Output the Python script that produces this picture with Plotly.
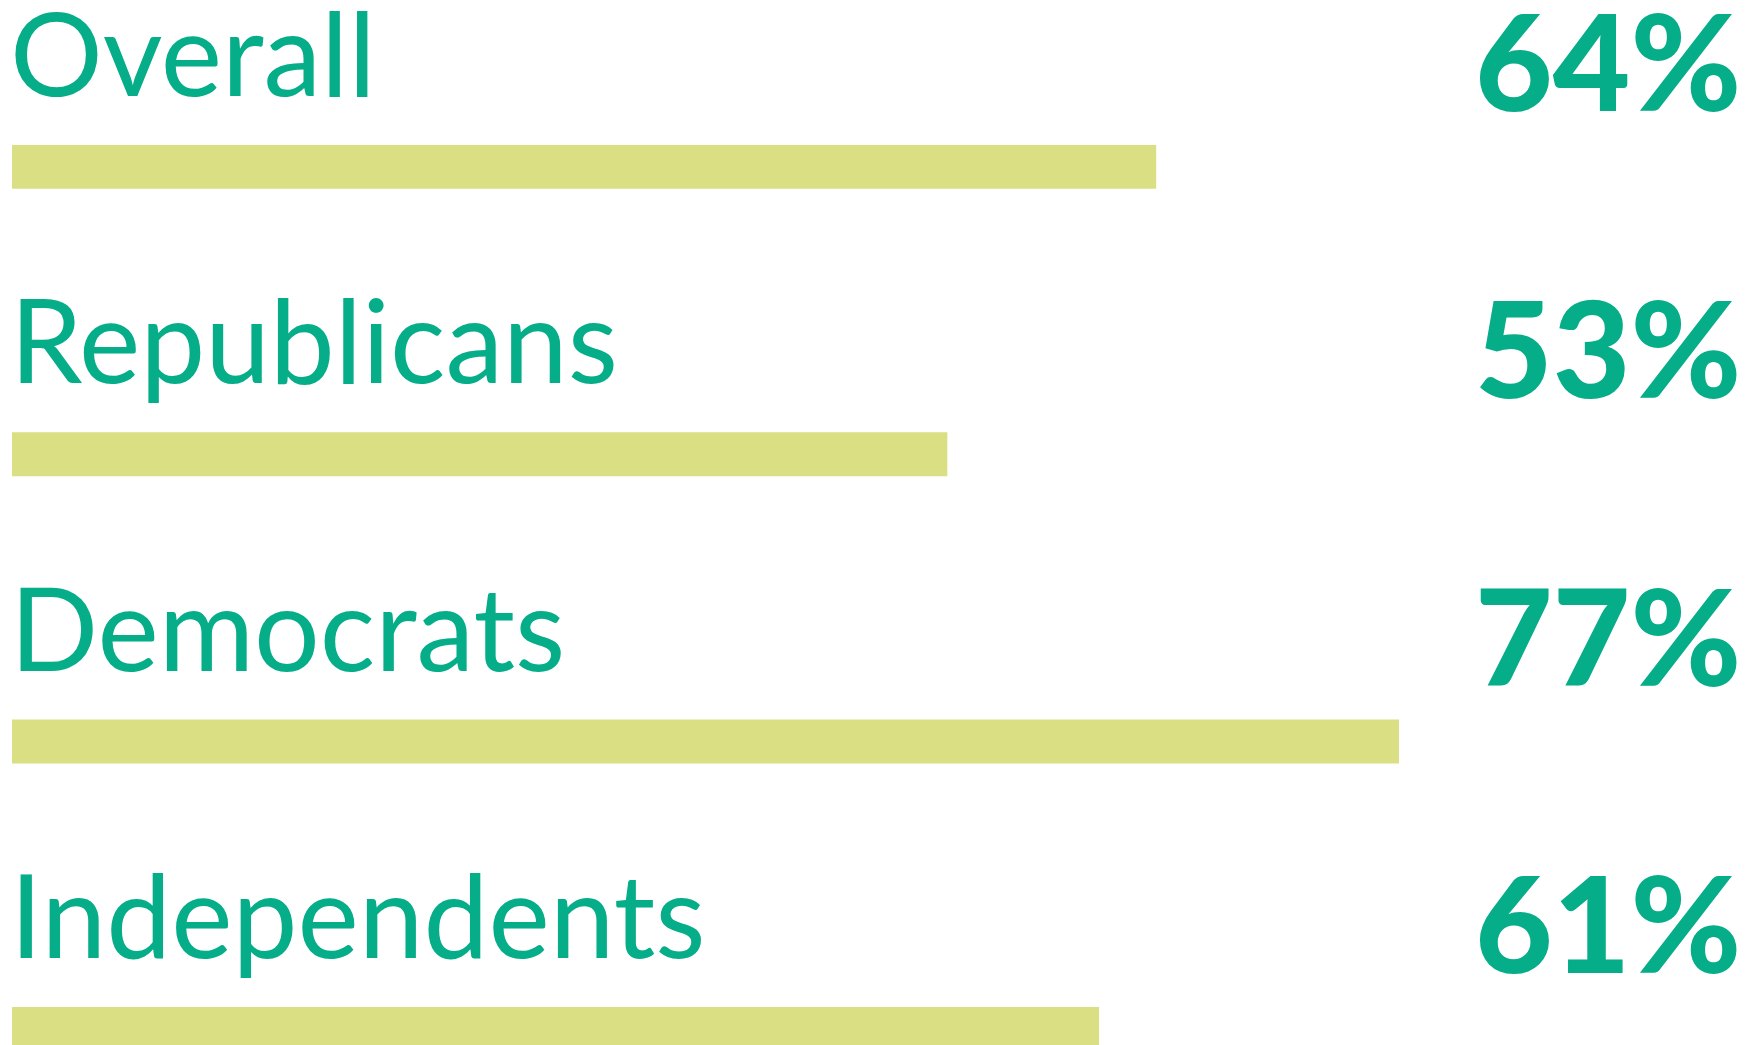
import plotly.graph_objects as go

categories = ["Overall", "Republicans", "Democrats", "Independents"]
bar_values = [64.1, 52.4, 77.7, 60.9]
value_labels = ["64%", "53%", "77%", "61%"]

GREEN = "#05AD88"
BAR = "#DADF84"

fig = go.Figure()
fig.add_trace(go.Bar(
    x=bar_values,
    y=list(range(len(categories))),
    orientation="h",
    width=0.153,
    marker=dict(color=BAR, line=dict(width=0)),
    hoverinfo="skip",
))

half = 0.153 / 2
for i, (cat, lab) in enumerate(zip(categories, value_labels)):
    fig.add_annotation(
        x=0, y=i - half, xref="x", yref="y",
        text=cat, showarrow=False,
        xanchor="left", yanchor="bottom", yshift=22, xshift=-4,
        font=dict(family="Lato", size=116, color=GREEN, weight=400),
    )
    fig.add_annotation(
        x=0.985, y=i - half, xref="paper", yref="y",
        text=lab, showarrow=False,
        xanchor="right", yanchor="bottom", yshift=3,
        font=dict(family="Lato", size=134, color=GREEN, weight=900),
    )

fig.update_layout(
    width=1761, height=1045,
    margin=dict(l=0, r=0, t=0, b=0),
    paper_bgcolor="white", plot_bgcolor="white",
    showlegend=False,
    xaxis=dict(range=[-0.224, 98.43], visible=False, fixedrange=True),
    yaxis=dict(range=[3.084, -0.553], visible=False, fixedrange=True),
)

fig.write_html("out.html")
